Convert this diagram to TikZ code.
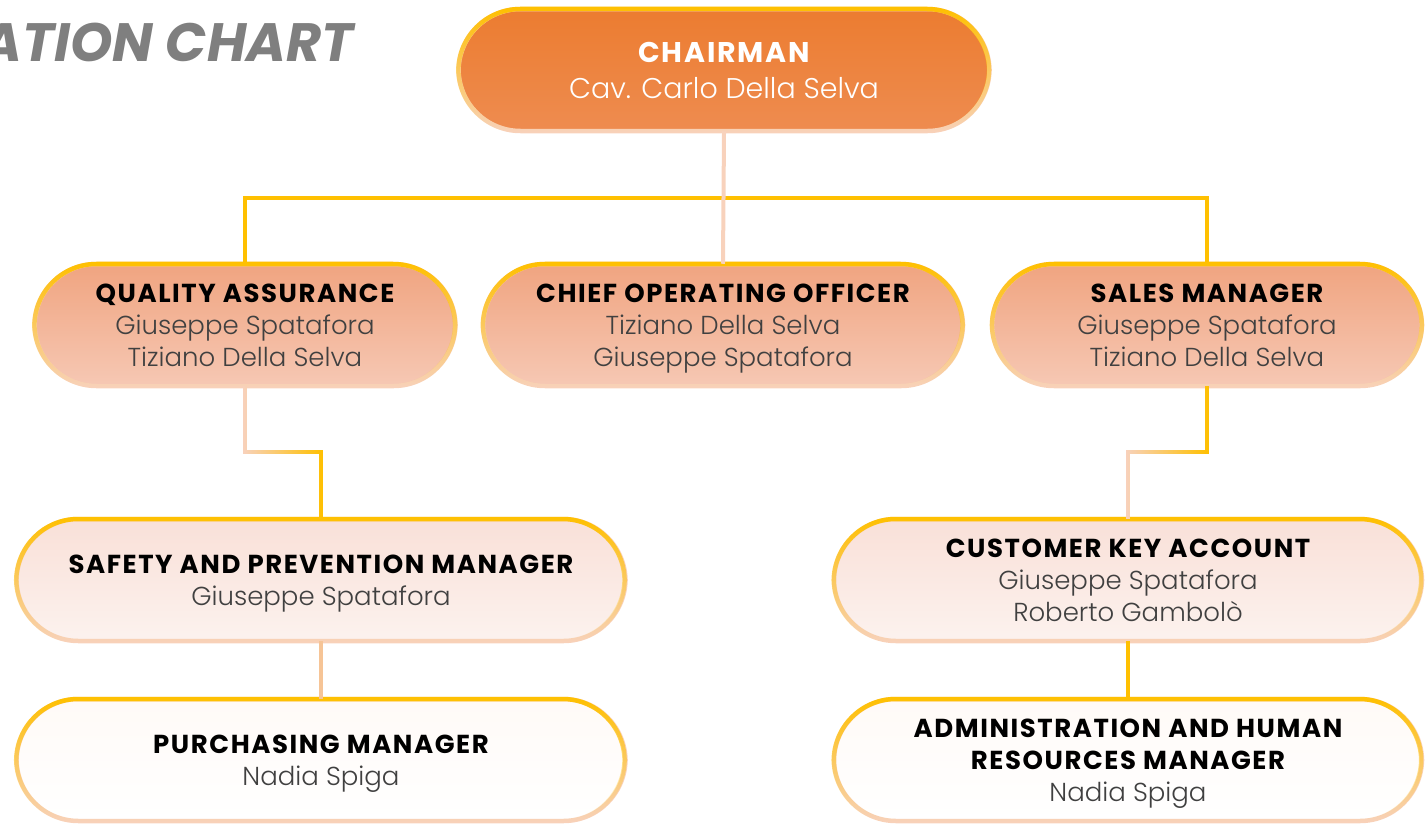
\documentclass[tikz,border=0pt]{standalone}
\usepackage{fontspec}
\setmainfont{Poppins}
\newfontfamily\namefont{Poppins Light}
\newfontfamily\rolefont{Poppins}[LetterSpace=6]
\usetikzlibrary{fadings}
\definecolor{gold}{HTML}{FFC000}
\definecolor{peach}{HTML}{F8D2BC}
\definecolor{apricot}{HTML}{F6C496}
\definecolor{namegray}{HTML}{404040}
\definecolor{headgray}{HTML}{7F7F7F}
\definecolor{chairtop}{HTML}{EC7C30}
\definecolor{chairbottom}{HTML}{EE8C50}
\definecolor{headtop}{HTML}{F0A480}
\definecolor{headbottom}{HTML}{F6C8B4}
\definecolor{midtop}{HTML}{F9E0D8}
\definecolor{midbottom}{HTML}{FCF2EE}
\definecolor{lowtop}{HTML}{FFFAF7}

\tikzfading[name=fade down, top color=transparent!0, bottom color=transparent!100]
\tikzfading[name=fade right, left color=transparent!0, right color=transparent!100]
\tikzfading[name=fade centre, left color=transparent!100, middle color=transparent!0, right color=transparent!100]

\tikzset{
  box/.style={rectangle, rounded corners=62pt, minimum height=122pt,
    align=center, draw=peach, line width=4.5pt, text depth=0pt,
    font=\fontsize{26}{32}\selectfont,
    postaction={draw=gold, line width=4.5pt, path fading=fade down}},
  chairbox/.style={box, top color=chairtop, bottom color=chairbottom,
    font=\fontsize{28.5}{36}\selectfont},
  headbox/.style={box, top color=headtop, bottom color=headbottom},
  midbox/.style={box, top color=midtop, bottom color=midbottom},
  lowbox/.style={box, top color=lowtop, bottom color=white},
  link/.style={line width=4pt, line cap=rect},
  heading/.style={font=\fontsize{54}{54}\selectfont\bfseries\itshape, text=headgray}
}

\begin{document}
\begin{tikzpicture}[x=1pt, y=-1pt]
  \useasboundingbox (0,0) rectangle (1428,825);

  \node[heading, anchor=east] (title) at (357,42) {ATION CHART};

  \node[chairbox, minimum width=531pt] (chair) at (724,70)
    {{\rolefont\bfseries\color{white}CHAIRMAN}\\{\namefont\color{white}Cav. Carlo Della Selva}};

  \node[headbox, minimum width=421pt] (qa) at (245,325)
    {{\rolefont\bfseries QUALITY ASSURANCE}\\{\namefont\color{namegray}Giuseppe Spatafora}\\{\namefont\color{namegray}Tiziano Della Selva}};
  \node[headbox, minimum width=480pt] (coo) at (723,325)
    {{\rolefont\bfseries CHIEF OPERATING OFFICER}\\{\namefont\color{namegray}Tiziano Della Selva}\\{\namefont\color{namegray}Giuseppe Spatafora}};
  \node[headbox, minimum width=430pt] (sales) at (1207,325)
    {{\rolefont\bfseries SALES MANAGER}\\{\namefont\color{namegray}Giuseppe Spatafora}\\{\namefont\color{namegray}Tiziano Della Selva}};

  \node[midbox, minimum width=609pt] (safety) at (321,580)
    {{\rolefont\bfseries SAFETY AND PREVENTION MANAGER}\\{\namefont\color{namegray}Giuseppe Spatafora}};
  \node[midbox, minimum width=588pt] (account) at (1128,580)
    {{\rolefont\bfseries CUSTOMER KEY ACCOUNT}\\{\namefont\color{namegray}Giuseppe Spatafora}\\{\namefont\color{namegray}Roberto Gambolò}};

  \node[lowbox, minimum width=609pt] (purchase) at (321,760)
    {{\rolefont\bfseries PURCHASING MANAGER}\\{\namefont\color{namegray}Nadia Spiga}};
  \node[lowbox, minimum width=588pt] (admin) at (1128,760)
    {{\rolefont\bfseries ADMINISTRATION AND HUMAN}\\{\rolefont\bfseries RESOURCES MANAGER}\\{\namefont\color{namegray}Nadia Spiga}};

  % connectors
  \coordinate (bus) at (724,198);
  \draw[link, gold] (qa.north) |- (bus) -| (sales.north);
  \draw[link, peach, path fading=fade centre] (qa.north) |- (bus) -| (sales.north);
  \draw[link, peach] (chair.south) -- (coo.north);

  \path (qa.south) ++(0,64) coordinate (qa bend);
  \draw[link, gold] (qa.south) |- (qa bend -| safety.north) -- (safety.north);
  \draw[link, peach, path fading=fade right] (qa.south) |- (qa bend -| safety.north) -- (safety.north);

  \path (sales.south) ++(0,64) coordinate (sales bend);
  \draw[link, gold] (sales.south) |- (sales bend -| account.north) -- (account.north);
  \draw[link, peach, path fading=fade right] (sales.south) |- (sales bend -| account.north) -- (account.north);

  \draw[link, apricot] (safety.south) -- (purchase.north);
  \draw[link, gold] (account.south) -- (admin.north);
\end{tikzpicture}
\end{document}
